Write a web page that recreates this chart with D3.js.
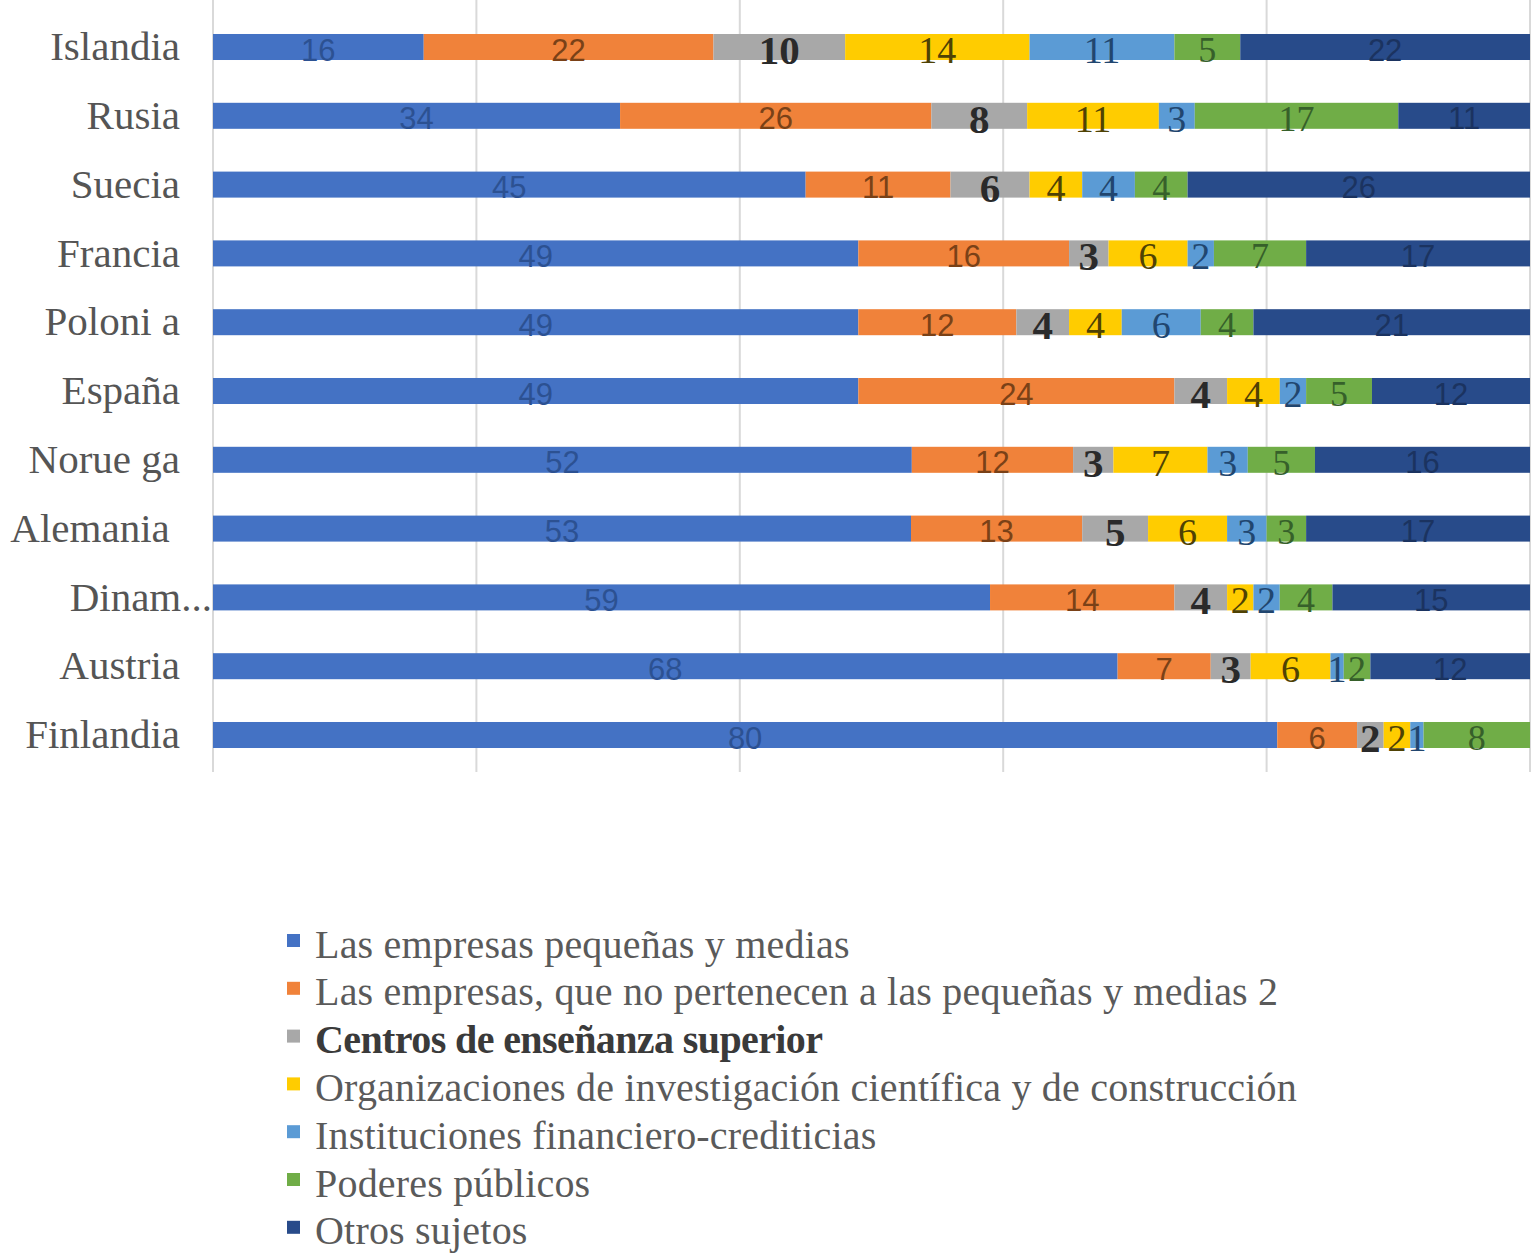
<!DOCTYPE html>
<html>
<head>
<meta charset="utf-8">
<script src="https://cdn.jsdelivr.net/npm/d3@7"></script>
<style>
  html, body { margin: 0; padding: 0; background: #ffffff; }
  svg { display: block; }
</style>
</head>
<body>
<svg id="chart" width="1531" height="1256"></svg>
<script>
// ---------- DATA ----------
const countries = ["Islandia", "Rusia", "Suecia", "Francia", "Polonia", "España", "Noruega", "Alemania", "Dinamarca", "Austria", "Finlandia"];
const countryLabels = ["Islandia", "Rusia", "Suecia", "Francia", "Poloni a", "España", "Norue ga", "Alemania\u00A0", "Dinam...", "Austria", "Finlandia"];

const seriesNames = [
  "Las empresas pequeñas y medias",
  "Las empresas, que no pertenecen a las pequeñas y medias 2",
  "Centros de enseñanza superior",
  "Organizaciones de investigación científica y de construcción",
  "Instituciones financiero-crediticias",
  "Poderes públicos",
  "Otros sujetos"
];

const pymes          = [16, 34, 45, 49, 49, 49, 52, 53, 59, 68, 80];
const grandes        = [22, 26, 11, 16, 12, 24, 12, 13, 14,  7,  6];
const centros        = [10,  8,  6,  3,  4,  4,  3,  5,  4,  3,  2];
const organizaciones = [14, 11,  4,  6,  4,  4,  7,  6,  2,  6,  2];
const instituciones  = [11,  3,  4,  2,  6,  2,  3,  3,  2,  1,  1];
const poderes        = [ 5, 17,  4,  7,  4,  5,  5,  3,  4,  2,  8];
const otros          = [22, 11, 26, 17, 21, 12, 16, 17, 15, 12,  0];

const seriesValues = [pymes, grandes, centros, organizaciones, instituciones, poderes, otros];
const xTicks = [0, 0.2, 0.4, 0.6, 0.8, 1.0];

// ---------- STYLE ----------
const colors = ["#4472C4", "#F0823A", "#A8A8A8", "#FFCC00", "#5B9BD5", "#70AD47", "#284B8A"];
const labelStyle = [
  { fill: "#2c5192", family: "Liberation Sans, Arial, sans-serif", size: 31, weight: "normal" },
  { fill: "#7a4117", family: "Liberation Sans, Arial, sans-serif", size: 31, weight: "normal" },
  { fill: "#2a2a2a", family: "Liberation Serif, Times New Roman, serif", size: 41, weight: "bold" },
  { fill: "#4f4204", family: "Liberation Serif, Times New Roman, serif", size: 38, weight: "normal" },
  { fill: "#21466f", family: "Liberation Serif, Times New Roman, serif", size: 38, weight: "normal" },
  { fill: "#36602a", family: "Liberation Serif, Times New Roman, serif", size: 36, weight: "normal" },
  { fill: "#1b3360", family: "Liberation Sans, Arial, sans-serif", size: 31, weight: "normal" }
];

// ---------- BUILD ----------
const table = countries.map((c, i) => {
  const row = { country: c };
  seriesNames.forEach((s, j) => { row[s] = seriesValues[j][i]; });
  return row;
});

const stack = d3.stack().keys(seriesNames).offset(d3.stackOffsetExpand);
const layers = stack(table);

const svg = d3.select("#chart");

const x = d3.scaleLinear().domain([0, 1]).range([213, 1530]);
const y = d3.scaleBand().domain(countries).range([12.6, 769.4]).paddingInner(0.622).paddingOuter(0.311);

// gridlines
svg.append("g")
  .selectAll("line")
  .data(xTicks)
  .join("line")
  .attr("x1", d => x(d)).attr("x2", d => x(d))
  .attr("y1", 0).attr("y2", 772)
  .attr("stroke", "#d9d9d9")
  .attr("stroke-width", 2);

// bars
const gLayers = svg.append("g")
  .selectAll("g")
  .data(layers)
  .join("g")
  .attr("fill", (d, i) => colors[i]);

gLayers.selectAll("rect")
  .data(d => d)
  .join("rect")
  .attr("x", d => x(d[0]))
  .attr("y", d => y(d.data.country))
  .attr("width", d => Math.max(0, x(d[1]) - x(d[0])))
  .attr("height", y.bandwidth());

// value labels
svg.append("g")
  .selectAll("g")
  .data(layers)
  .join("g")
  .each(function (layer, i) {
    const st = labelStyle[i];
    d3.select(this).selectAll("text")
      .data(layer.filter(d => d.data[layer.key] > 0))
      .join("text")
      .attr("x", d => (x(d[0]) + x(d[1])) / 2)
      .attr("y", d => y(d.data.country) + y.bandwidth() / 2 + 3)
      .attr("text-anchor", "middle")
      .attr("dominant-baseline", "central")
      .attr("font-family", st.family)
      .attr("font-size", st.size)
      .attr("font-weight", st.weight)
      .attr("fill", st.fill)
      .text(d => d.data[layer.key]);
  });

// y axis category labels
const yAxis = d3.axisLeft(y).tickSize(0).tickPadding(0).tickFormat((d, i) => countryLabels[i]);
const gy = svg.append("g").attr("transform", "translate(180,0)").call(yAxis);
gy.select(".domain").remove();
gy.selectAll("text")
  .attr("font-family", "Liberation Serif, Times New Roman, serif")
  .attr("font-size", 41)
  .attr("fill", "#555555")
  .attr("dy", "0.32em")
  .style("white-space", "pre");
gy.selectAll(".tick").filter(d => d === "Dinamarca").select("text").attr("x", 32);

// legend
const legend = svg.append("g").attr("transform", "translate(287,944)");
const items = legend.selectAll("g")
  .data(seriesNames)
  .join("g")
  .attr("transform", (d, i) => `translate(0,${i * 47.8})`);
items.append("rect")
  .attr("x", 0).attr("y", -10).attr("width", 13).attr("height", 13)
  .attr("fill", (d, i) => colors[i]);
items.append("text")
  .attr("x", 28).attr("y", 0)
  .attr("dominant-baseline", "central")
  .attr("font-family", "Liberation Serif, Times New Roman, serif")
  .attr("font-size", 40)
  .attr("font-weight", (d, i) => i === 2 ? "bold" : "normal")
  .attr("fill", (d, i) => i === 2 ? "#3a3a3a" : "#5a5a5a")
  .attr("letter-spacing", (d, i) => i === 2 ? "-0.6" : "0.2")
  .text(d => d);
</script>
</body>
</html>
